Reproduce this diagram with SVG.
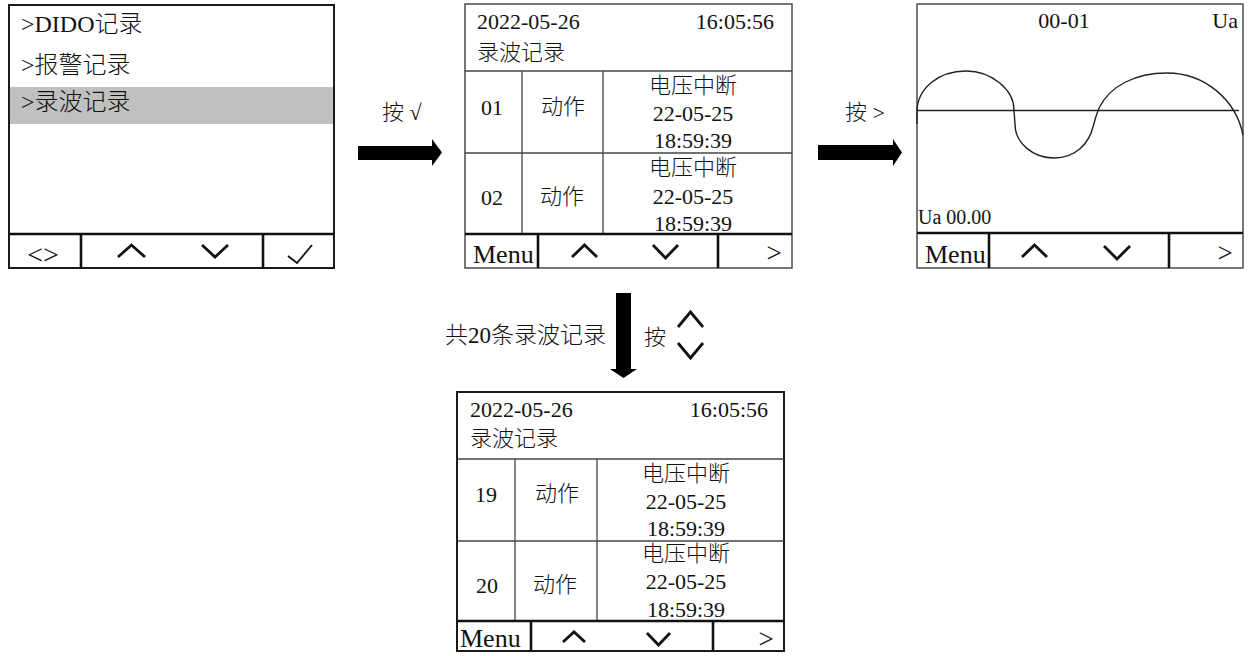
<svg xmlns="http://www.w3.org/2000/svg" width="1248" height="656" viewBox="0 0 1248 656">
<style>
text{font-family:"Liberation Serif","Noto Sans CJK SC",serif;fill:#111;font-weight:300;}
.t22{font-size:22px;}
.t24{font-size:24px;}
.menu{font-size:26px;}
.gt{font-size:27px;}
.mid{text-anchor:middle;}
.end{text-anchor:end;}
.box{fill:#fff;stroke:#555;stroke-width:1.6;}
.box1{fill:#fff;stroke:#1a1a1a;stroke-width:2;}
.cell{stroke:#444;stroke-width:1.3;fill:none;}
.foot{stroke:#111;stroke-width:2.6;fill:none;}
.chev{stroke:#111;stroke-width:2.8;fill:none;stroke-linejoin:miter;}
.arrow{fill:#000;}
</style>

<g id="panel-menu">
  <rect class="box1" x="9" y="5" width="325" height="263"/>
  <rect x="10" y="87" width="323" height="37" fill="#c0c0c0"/>
  <text class="t24" x="21" y="32">&gt;DIDO记录</text>
  <text class="t24" x="21" y="73">&gt;报警记录</text>
  <text class="t24" x="21" y="110">&gt;录波记录</text>
  <line class="foot" x1="9" y1="234" x2="334" y2="234"/>
  <line class="foot" x1="81" y1="234" x2="81" y2="268"/>
  <line class="foot" x1="263" y1="234" x2="263" y2="268"/>
  <text class="mid" x="43" y="264" style="font-size:28px">&lt;&gt;</text>
  <polyline class="chev" points="118,257 131.5,245 145,257"/>
  <polyline class="chev" points="202,245 215,257 228,245"/>
  <path d="M288,256 L297,263 L312,245" fill="none" stroke="#111" stroke-width="1.8"/>
</g>

<g id="panel-list1">
  <rect class="box" x="465" y="4" width="327" height="264"/>
  <line class="cell" x1="465" y1="71" x2="792" y2="71"/>
  <line class="cell" x1="465" y1="153" x2="792" y2="153"/>
  <line class="cell" x1="522" y1="71" x2="522" y2="234"/>
  <line class="cell" x1="603" y1="71" x2="603" y2="234"/>
  <text class="t22" x="477" y="29">2022-05-26</text>
  <text class="t22 end" x="774" y="29">16:05:56</text>
  <text class="t22" x="477" y="60">录波记录</text>
  <text class="t22 mid" x="492" y="115">01</text>
  <text class="t22 mid" x="563" y="114">动作</text>
  <text class="t22 mid" x="693" y="93">电压中断</text>
  <text class="t22 mid" x="693" y="121">22-05-25</text>
  <text class="t22 mid" x="693" y="148">18:59:39</text>
  <text class="t22 mid" x="492" y="205">02</text>
  <text class="t22 mid" x="562" y="204">动作</text>
  <text class="t22 mid" x="693" y="175">电压中断</text>
  <text class="t22 mid" x="693" y="204">22-05-25</text>
  <text class="t22 mid" x="693" y="231">18:59:39</text>
  <line class="foot" x1="465" y1="234" x2="792" y2="234"/>
  <line class="foot" x1="538" y1="234" x2="538" y2="268"/>
  <line class="foot" x1="718" y1="234" x2="718" y2="268"/>
  <text class="menu" x="473" y="263">Menu</text>
  <polyline class="chev" points="572,257 584.5,245 597,257"/>
  <polyline class="chev" points="653,245 665.5,258 678,245"/>
  <text class="gt mid" x="774" y="262">&gt;</text>
</g>

<g id="panel-wave">
  <rect class="box" x="917" y="4" width="326" height="264"/>
  <text class="t22 mid" x="1064" y="28">00-01</text>
  <text class="t22 end" x="1238" y="28">Ua</text>
  <line x1="917" y1="110.5" x2="1239" y2="110.5" stroke="#222" stroke-width="1.4"/>
  <path d="M917,124 L917,112 C917,88 939,71 966,71 C992,71 1014,90 1014,110 L1015,124 C1015,143 1033,158 1054,158 C1076,158 1089,143 1093,127 C1095,119 1097,113 1099,108 C1110,86 1135,73 1167,73 C1205,73 1236,100 1243,135" fill="none" stroke="#222" stroke-width="1.4"/>
  <text x="918" y="224" style="font-size:20px">Ua 00.00</text>
  <line class="foot" x1="917" y1="233" x2="1243" y2="233"/>
  <line class="foot" x1="989" y1="233" x2="989" y2="268"/>
  <line class="foot" x1="1169" y1="233" x2="1169" y2="268"/>
  <text class="menu" x="925" y="263">Menu</text>
  <polyline class="chev" points="1022,257 1034.5,245 1047,257"/>
  <polyline class="chev" points="1104,246 1117,259 1130,246"/>
  <text class="gt mid" x="1225" y="262">&gt;</text>
</g>

<g id="panel-list2">
  <rect class="box1" x="457" y="392" width="327" height="259"/>
  <line class="cell" x1="457" y1="459" x2="784" y2="459"/>
  <line class="cell" x1="457" y1="541" x2="784" y2="541"/>
  <line class="cell" x1="515" y1="459" x2="515" y2="621"/>
  <line class="cell" x1="597" y1="459" x2="597" y2="621"/>
  <text class="t22" x="470" y="417">2022-05-26</text>
  <text class="t22 end" x="768" y="417">16:05:56</text>
  <text class="t22" x="470" y="446">录波记录</text>
  <text class="t22 mid" x="486" y="502">19</text>
  <text class="t22 mid" x="557" y="501">动作</text>
  <text class="t22 mid" x="686" y="481">电压中断</text>
  <text class="t22 mid" x="686" y="509">22-05-25</text>
  <text class="t22 mid" x="686" y="536">18:59:39</text>
  <text class="t22 mid" x="487" y="593">20</text>
  <text class="t22 mid" x="555" y="592">动作</text>
  <text class="t22 mid" x="686" y="561">电压中断</text>
  <text class="t22 mid" x="686" y="589">22-05-25</text>
  <text class="t22 mid" x="686" y="617">18:59:39</text>
  <line class="foot" x1="457" y1="621" x2="784" y2="621"/>
  <line class="foot" x1="531" y1="621" x2="531" y2="651"/>
  <line class="foot" x1="713" y1="621" x2="713" y2="651"/>
  <text class="menu" x="460" y="647">Menu</text>
  <polyline class="chev" points="563,642 574,632 585,642"/>
  <polyline class="chev" points="647,633 658.5,645 670,633"/>
  <text class="gt mid" x="766" y="648">&gt;</text>
</g>

<g id="connectors">
  <path class="arrow" d="M358,146 L432,146 L432,139 L442,152.5 L432,166 L432,160 L358,160 Z"/>
  <text class="t22" x="382" y="120">按 √</text>
  <path class="arrow" d="M818,145 L893,145 L893,139 L902,152.5 L893,166 L893,160 L818,160 Z"/>
  <text class="t22" x="845" y="120">按 &gt;</text>
  <path class="arrow" d="M616,293 L631,293 L631,369 L637,369 L623.5,378 L610,369 L616,369 Z"/>
  <text x="445" y="343" style="font-size:23px">共20条录波记录</text>
  <text class="t22" x="644" y="345">按</text>
  <polyline class="chev" points="678,327 690.5,312 703,327"/>
  <polyline class="chev" points="678,343 690.5,358 703,343"/>
</g>
</svg>
